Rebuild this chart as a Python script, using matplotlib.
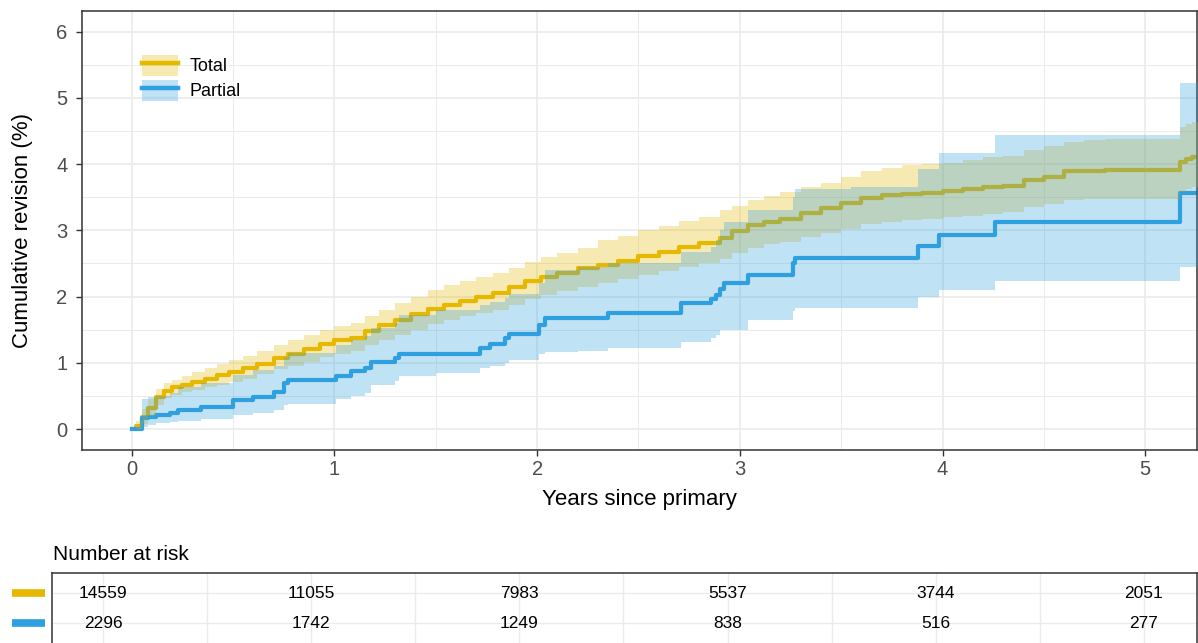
import matplotlib
matplotlib.use("Agg")
import matplotlib.pyplot as plt
from matplotlib.patches import Patch
from matplotlib.lines import Line2D
from matplotlib.ticker import MultipleLocator

plt.rcParams['font.family'] = ['Liberation Sans', 'DejaVu Sans']

# --- Total (cumulative revision %, step curve with 95% CI) ---
t_total = [0, 0.02, 0.05, 0.08, 0.12, 0.16, 0.2, 0.25, 0.3, 0.36, 0.42, 0.48, 0.55,
           0.62, 0.7, 0.77, 0.85, 0.93, 1.0, 1.08, 1.15, 1.22, 1.3, 1.38, 1.46, 1.54,
           1.62, 1.7, 1.78, 1.86, 1.94, 2.02, 2.1, 2.2, 2.3, 2.4, 2.5, 2.6, 2.7, 2.8,
           2.9, 2.96, 3.04, 3.12, 3.2, 3.3, 3.4, 3.5, 3.6, 3.7, 3.8, 3.9, 4.0, 4.1,
           4.2, 4.3, 4.4, 4.5, 4.6, 4.7, 4.8, 5.17, 5.2, 5.23, 5.26]
y_total = [0.0, 0.05, 0.18, 0.32, 0.48, 0.58, 0.63, 0.67, 0.71, 0.76, 0.81, 0.86, 0.92,
           0.99, 1.08, 1.14, 1.21, 1.29, 1.34, 1.38, 1.48, 1.57, 1.64, 1.73, 1.81, 1.88,
           1.94, 1.99, 2.05, 2.14, 2.23, 2.30, 2.36, 2.43, 2.48, 2.54, 2.62, 2.68, 2.75,
           2.81, 2.89, 2.99, 3.08, 3.13, 3.17, 3.26, 3.34, 3.41, 3.49, 3.53, 3.55, 3.57,
           3.60, 3.62, 3.65, 3.67, 3.76, 3.80, 3.89, 3.90, 3.91, 4.03, 4.08, 4.11, 4.11]
up_total = [0.0, 0.12, 0.30, 0.45, 0.60, 0.69, 0.74, 0.80, 0.86, 0.92, 0.98, 1.04, 1.10,
            1.18, 1.27, 1.34, 1.42, 1.50, 1.55, 1.60, 1.70, 1.80, 1.90, 2.00, 2.10, 2.17,
            2.23, 2.29, 2.35, 2.43, 2.52, 2.60, 2.66, 2.74, 2.85, 2.92, 3.00, 3.07, 3.14,
            3.20, 3.30, 3.36, 3.46, 3.52, 3.58, 3.66, 3.72, 3.80, 3.90, 3.94, 3.98, 4.00,
            4.02, 4.06, 4.10, 4.12, 4.21, 4.28, 4.34, 4.36, 4.38, 4.56, 4.60, 4.63, 4.63]
lo_total = [0.0, 0.0, 0.08, 0.20, 0.36, 0.47, 0.52, 0.56, 0.59, 0.63, 0.67, 0.71, 0.76,
            0.83, 0.91, 0.96, 1.02, 1.09, 1.14, 1.18, 1.27, 1.35, 1.42, 1.50, 1.58, 1.64,
            1.70, 1.75, 1.80, 1.88, 1.96, 2.03, 2.09, 2.15, 2.20, 2.26, 2.33, 2.38, 2.45,
            2.50, 2.57, 2.66, 2.74, 2.79, 2.82, 2.90, 2.96, 3.02, 3.09, 3.13, 3.15, 3.17,
            3.20, 3.22, 3.25, 3.27, 3.35, 3.39, 3.46, 3.47, 3.48, 3.58, 3.63, 3.66, 3.66]

# --- Partial ---
t_partial = [0, 0.05, 0.08, 0.12, 0.19, 0.23, 0.34, 0.5, 0.6, 0.7, 0.75, 0.77, 1.01,
             1.08, 1.15, 1.18, 1.3, 1.32, 1.5, 1.72, 1.77, 1.84, 1.86, 2.01, 2.04, 2.2,
             2.35, 2.71, 2.86, 2.88, 2.9, 2.92, 3.04, 3.26, 3.27, 3.55, 3.88, 3.98,
             4.26, 5.17, 5.26]
y_partial = [0.0, 0.17, 0.19, 0.22, 0.25, 0.29, 0.34, 0.44, 0.49, 0.56, 0.70, 0.74, 0.80,
             0.88, 0.92, 1.02, 1.08, 1.14, 1.14, 1.22, 1.29, 1.37, 1.44, 1.57, 1.68, 1.68,
             1.75, 1.90, 1.96, 2.02, 2.12, 2.20, 2.33, 2.50, 2.58, 2.58, 2.76, 2.93,
             3.12, 3.56, 3.56]
up_partial = [0.0, 0.46, 0.48, 0.50, 0.55, 0.63, 0.69, 0.82, 0.89, 0.96, 1.09, 1.15, 1.27,
              1.34, 1.40, 1.52, 1.60, 1.72, 1.80, 1.88, 1.92, 1.98, 2.04, 2.20, 2.40, 2.44,
              2.50, 2.68, 2.75, 2.85, 3.00, 3.13, 3.30, 3.50, 3.63, 3.66, 3.93, 4.16,
              4.44, 5.22, 5.22]
lo_partial = [0.0, 0.03, 0.06, 0.09, 0.11, 0.13, 0.16, 0.21, 0.24, 0.29, 0.36, 0.38, 0.45,
              0.50, 0.55, 0.66, 0.72, 0.80, 0.84, 0.92, 0.96, 1.00, 1.05, 1.13, 1.16, 1.18,
              1.22, 1.32, 1.37, 1.42, 1.50, 1.50, 1.65, 1.78, 1.83, 1.83, 2.00, 2.10,
              2.24, 2.45, 2.45]

# --- risk table ---
risk_times = [0, 1, 2, 3, 4, 5]
risk_total = [14559, 11055, 7983, 5537, 3744, 2051]
risk_partial = [2296, 1742, 1249, 838, 516, 277]

c_total = '#E7B800'
c_partial = '#2E9FDF'
grid_c = '#EBEBEB'
xlim = (-0.245, 5.255)

W, H = 1198, 643
fig = plt.figure(figsize=(W / 100, H / 100), dpi=100)
ax = fig.add_axes([82 / W, 1 - 450 / H, (1197 - 82) / W, (450 - 11) / H])

# lines first, ribbons drawn on top (as in survminer)
ax.step(t_total, y_total, where='post', color=c_total, lw=3.0, zorder=2)
ax.step(t_partial, y_partial, where='post', color=c_partial, lw=3.0, zorder=2)
ax.fill_between(t_total, lo_total, up_total, step='post', color=c_total,
                alpha=0.3, lw=0, zorder=3)
ax.fill_between(t_partial, lo_partial, up_partial, step='post', color=c_partial,
                alpha=0.3, lw=0, zorder=4)

ax.set_xlim(*xlim)
ax.set_ylim(-0.315, 6.31)
ax.xaxis.set_major_locator(MultipleLocator(1))
ax.xaxis.set_minor_locator(MultipleLocator(0.5))
ax.yaxis.set_major_locator(MultipleLocator(1))
ax.yaxis.set_minor_locator(MultipleLocator(0.5))
ax.grid(which='major', color=grid_c, lw=1.2, zorder=0)
ax.grid(which='minor', color=grid_c, lw=0.7, zorder=0)
ax.set_axisbelow(True)
ax.tick_params(which='major', length=4, width=1, color='#333333',
               labelcolor='#4D4D4D', labelsize=14.5, pad=3)
ax.tick_params(axis='y', which='major', pad=6.5)
ax.tick_params(which='minor', length=0)
for s in ax.spines.values():
    s.set_color('#333333')
    s.set_linewidth(1.1)

ax.set_xlabel('Years since primary', fontsize=16, color='black')
ax.xaxis.set_label_coords(0.5, -0.088)
ax.set_ylabel('Cumulative revision (%)', fontsize=16, color='black')
ax.yaxis.set_label_coords(-0.044, 0.5)

handles = [(Patch(facecolor=c_total, alpha=0.3, edgecolor='none'),
            Line2D([], [], color=c_total, lw=3.2)),
           (Patch(facecolor=c_partial, alpha=0.3, edgecolor='none'),
            Line2D([], [], color=c_partial, lw=3.2))]
ax.legend(handles, ['Total', 'Partial'], loc='upper left',
          bbox_to_anchor=(0.0538, 0.9), frameon=False, borderpad=0,
          borderaxespad=0, handlelength=2.0, handleheight=1.4,
          handletextpad=0.65, labelspacing=0.22, fontsize=13)

# risk table
ax_tab = fig.add_axes([52 / W, 1 - 660 / H, (1197 - 52) / W, (660 - 573) / H])
ax_tab.set_xlim(*xlim)
ax_tab.set_ylim(-0.233, 2.667)
ax_tab.xaxis.set_major_locator(MultipleLocator(1))
ax_tab.xaxis.set_minor_locator(MultipleLocator(0.5))
ax_tab.set_yticks([1, 2])
ax_tab.grid(which='both', color=grid_c, lw=1.0, zorder=0)
ax_tab.tick_params(which='both', length=0, labelbottom=False, labelleft=False)
for s in ax_tab.spines.values():
    s.set_color('#333333')
    s.set_linewidth(1.1)
for i, t in enumerate(risk_times):
    ax_tab.text(t, 2, str(risk_total[i]), ha='center', va='center', fontsize=12.5)
    ax_tab.text(t, 1, str(risk_partial[i]), ha='center', va='center', fontsize=12.5)

trans = ax_tab.get_yaxis_transform()
for yy, c in [(2, c_total), (1, c_partial)]:
    ax_tab.plot([-0.035, -0.006], [yy, yy], color=c, lw=5.5, solid_capstyle='butt',
                transform=trans, clip_on=False)

ax_tab.annotate('Number at risk', xy=(0, 1), xycoords='axes fraction',
                xytext=(1, 9), textcoords='offset points', va='baseline',
                ha='left', fontsize=15)

fig.savefig('out.png', dpi=100)
